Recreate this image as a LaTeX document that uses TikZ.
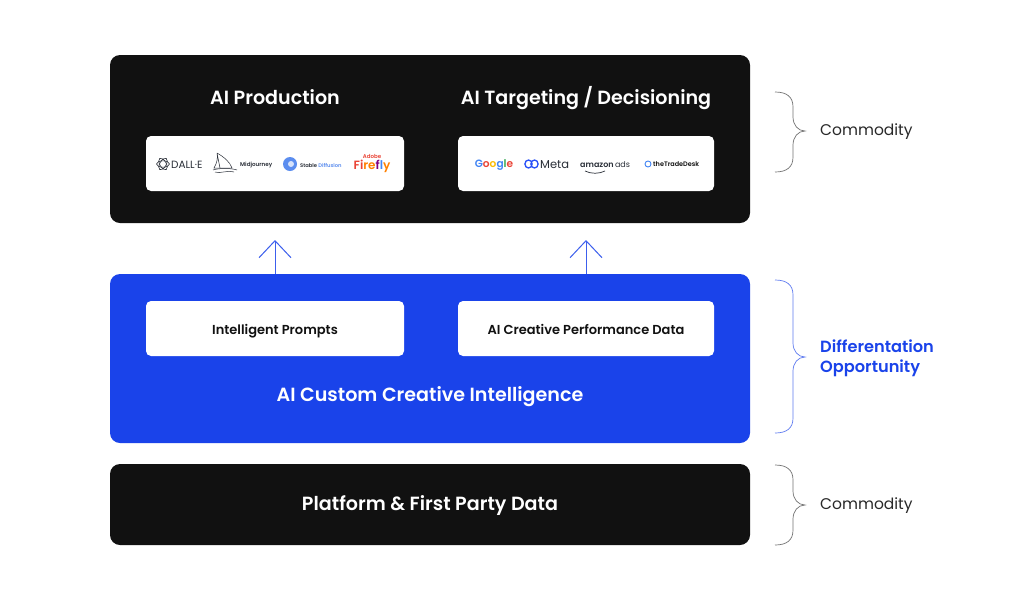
\documentclass[tikz,border=0pt]{standalone}
\usepackage{fontspec}
\setmainfont{Poppins}[BoldFont={Poppins SemiBold}]
\usetikzlibrary{arrows.meta}
\definecolor{inkblack}{HTML}{111111}
\definecolor{adblue}{HTML}{1A43EA}
\definecolor{gblue}{HTML}{4285F4}
\definecolor{gred}{HTML}{EA4335}
\definecolor{gyellow}{HTML}{FBBC05}
\definecolor{ggreen}{HTML}{34A853}
\definecolor{sdblue}{HTML}{5B8DEF}
\definecolor{logoink}{HTML}{2A2F38}
\newcommand{\logosize}[1]{\fontsize{#1}{#1}\selectfont}
\tikzset{
  panel/.style={rectangle, rounded corners=10pt, minimum width=640pt, inner sep=0pt},
  card/.style={rectangle, rounded corners=5pt, fill=white, minimum width=258pt, minimum height=55pt, inner sep=0pt},
  heading/.style={text=white, anchor=base, inner sep=0pt, font=\logosize{19.1}\bfseries},
  cardtext/.style={text=inkblack, anchor=base, inner sep=0pt, font=\logosize{13}\bfseries},
  sidetext/.style={anchor=base west, inner sep=0pt, text=inkblack!90, font=\logosize{15.5}},
  logo/.style={inner sep=0pt, text=logoink},
  brace/.style={draw=#1, line width=0.7pt},
  upline/.style={draw=adblue!85, line width=1pt, -{Straight Barb[length=17pt, width=32pt, line width=1pt]}}
}
\begin{document}
\begin{tikzpicture}[x=1pt, y=-1pt]
  \useasboundingbox (0,0) rectangle (1024,598);
  \fill[white] (0,0) rectangle (1024,598);

  % three layers
  \node[panel, fill=inkblack, minimum height=168pt] (top) at (430,139) {};
  \node[panel, fill=adblue, minimum height=169pt] (middle) at (430,358.5) {};
  \node[panel, fill=inkblack, minimum height=81pt] (bottom) at (430,504.5) {};

  \node[heading] (production) at (275,104) {AI Production};
  \node[heading] (targeting) at (586,104) {AI Targeting / Decisioning};
  \node[heading] (creative) at (430,401) {AI Custom Creative Intelligence};
  \node[heading] (platform) at (430,510.5) {Platform \& First Party Data};

  \node[card] (toolcard) at (275,163.5) {};
  \node[card, minimum width=256pt] (adcard) at (586,163.5) {};
  \node[card] (prompts) at (275,328.5) {};
  \node[card, minimum width=256pt] (perfdata) at (586,328.5) {};
  \node[cardtext] (promptstext) at (275,334.5) {Intelligent Prompts};
  \node[cardtext] (perftext) at (586,334.5) {AI Creative Performance Data};

  % logos, left card
  \foreach \ang in {0,60,120} \draw[logoink, line width=0.6pt, rotate around={\ang:(163,164)}] (163,164) ellipse (6.5pt and 3.2pt);
  \node[logo, anchor=west, font=\logosize{10.5}] (dalle) at (171,164.5) {DALL·E};
  \draw[logoink, line width=0.5pt] (217,153) .. controls (224,157) and (230,162) .. (232,168) -- (214,168) .. controls (217,163) and (218,158) .. (217,153) -- (220,168);
  \draw[logoink, line width=0.5pt] (213,170) .. controls (219,168) and (231,168) .. (237,170) (215,172) .. controls (220,174) and (226,170) .. (234,172);
  \node[logo, anchor=west, font=\logosize{5.6}\bfseries] (midjourney) at (240,165.5) {Midjourney};
  \fill[sdblue] (290,164) circle (7pt);
  \fill[white!75!sdblue] (291,164) circle (3pt);
  \node[logo, anchor=west, font=\logosize{5.2}\bfseries] (stable) at (300,165) {Stable \textcolor{sdblue}{Diffusion}};
  \node[logo, text=gred, font=\logosize{5.5}\bfseries] (adobe) at (372,156.5) {Adobe};
  \node[logo, font=\logosize{12}\bfseries] (firefly) at (372,166) {\textcolor{gred}{Fi}\textcolor{orange}{re}\textcolor{violet}{f}\textcolor{gblue}{l}\textcolor{orange}{y}};

  % logos, right card
  \node[logo, font=\logosize{10.6}\bfseries] (google) at (494,165) {\textcolor{gblue}{G}\textcolor{gred}{o}\textcolor{gyellow}{o}\textcolor{gblue}{g}\textcolor{ggreen}{l}\textcolor{gred}{e}};
  \draw[gblue!60!blue, line width=1.3pt] (528.5,164) ellipse (3.6pt and 4pt) (534.5,164) ellipse (3.6pt and 4pt);
  \node[logo, anchor=west, font=\logosize{11.5}] (meta) at (540,165) {Meta};
  \node[logo, anchor=west, font=\logosize{8}] (amazon) at (580,164.5) {\textbf{amazon}\,ads};
  \draw[logoink, line width=0.7pt] (585,171) .. controls (591,174) and (599,174) .. (605,171);
  \draw[gblue, line width=0.9pt] (648,164) circle (3pt);
  \node[logo, anchor=west, text=inkblack, font=\logosize{6.5}\bfseries] (tradedesk) at (653,164.5) {theTradeDesk};

  % arrows up
  \coordinate (tipleft) at (275,240);
  \coordinate (tipright) at (586,240);
  \draw[upline] (prompts |- middle.north) -- (tipleft);
  \draw[upline] (perfdata |- middle.north) -- (tipright);

  % braces
  \foreach \ya/\ym/\yb/\col in {92/131/172/black!55, 280/357/433/adblue!70, 465/505/545/black!55} {
    \draw[brace=\col] (775,\ya) .. controls (787,\ya) and (793,\ya+5) .. (793,\ya+15)
      -- (793,\ym-14) .. controls (793,\ym-6) and (798,\ym) .. (805,\ym)
      .. controls (798,\ym) and (793,\ym+6) .. (793,\ym+14)
      -- (793,\yb-15) .. controls (793,\yb-5) and (787,\yb) .. (775,\yb);
  }
  \node[sidetext] (commodityone) at (820,135.5) {Commodity};
  \node[sidetext, anchor=west, text=adblue, font=\fontsize{16.2}{20}\selectfont\bfseries, align=left] (opportunity) at (820,358.5) {Differentation\\Opportunity};
  \node[sidetext] (commoditytwo) at (820,509) {Commodity};
\end{tikzpicture}
\end{document}
